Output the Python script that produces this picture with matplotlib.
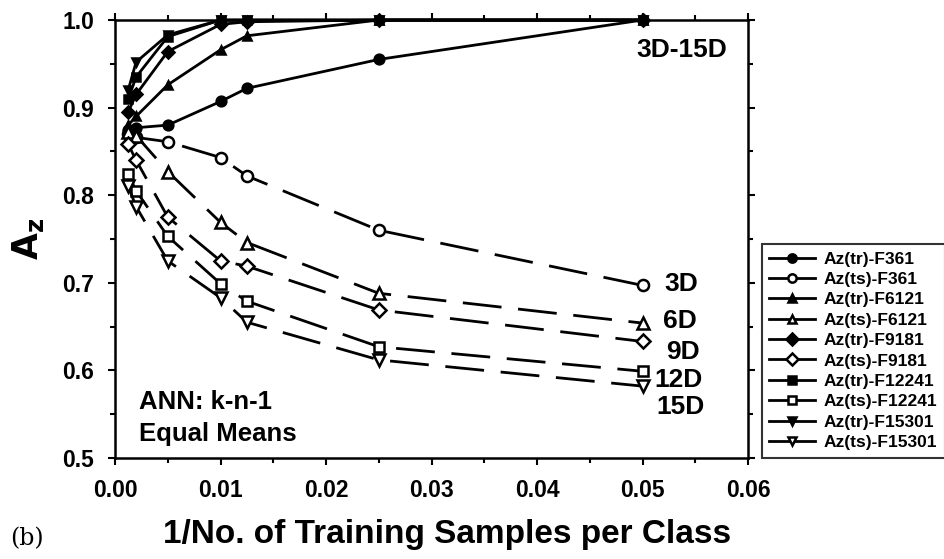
import matplotlib
matplotlib.use("Agg")
import matplotlib.pyplot as plt
from matplotlib.ticker import MultipleLocator
import numpy as np

plt.rcParams['font.family'] = ['Liberation Sans', 'DejaVu Sans']

x = [0.00125, 0.002, 0.005, 0.01, 0.0125, 0.025, 0.05]

tr_F361 = [0.874, 0.877, 0.880, 0.907, 0.922, 0.955, 1.0]
ts_F361 = [0.870, 0.866, 0.861, 0.843, 0.822, 0.760, 0.697]
tr_F6121 = [0.880, 0.890, 0.926, 0.966, 0.982, 1.0, 1.0]
ts_F6121 = [0.872, 0.868, 0.827, 0.769, 0.746, 0.688, 0.654]
tr_F9181 = [0.895, 0.915, 0.964, 0.995, 0.998, 1.0, 1.0]
ts_F9181 = [0.858, 0.840, 0.775, 0.725, 0.719, 0.669, 0.633]
tr_F12241 = [0.910, 0.935, 0.981, 1.0, 1.0, 1.0, 1.0]
ts_F12241 = [0.824, 0.805, 0.753, 0.699, 0.679, 0.627, 0.599]
tr_F15301 = [0.920, 0.952, 0.983, 1.0, 1.0, 1.0, 1.0]
ts_F15301 = [0.810, 0.787, 0.725, 0.683, 0.655, 0.612, 0.582]

labels = ["Az(tr)-F361", "Az(ts)-F361", "Az(tr)-F6121", "Az(ts)-F6121",
          "Az(tr)-F9181", "Az(ts)-F9181", "Az(tr)-F12241", "Az(ts)-F12241",
          "Az(tr)-F15301", "Az(ts)-F15301"]
series = [tr_F361, ts_F361, tr_F6121, ts_F6121, tr_F9181, ts_F9181,
          tr_F12241, ts_F12241, tr_F15301, ts_F15301]
markers = ['o', 'o', '^', '^', 'D', 'D', 's', 's', 'v', 'v']
msizes = [7, 8, 6, 9, 6, 7, 6, 7, 6, 9]

fig = plt.figure(figsize=(9.45, 5.59), dpi=100)
ax = fig.add_axes([0.1217, 0.1807, 0.670, 0.7835])

for i, (ys, lab, m, ms) in enumerate(zip(series, labels, markers, msizes)):
    is_ts = (i % 2 == 1)
    ax.plot(x, ys, color='black', lw=2,
            linestyle=(0, (14, 6)) if is_ts else '-',
            marker=m, markersize=ms, markeredgewidth=1.8,
            markerfacecolor='white' if is_ts else 'black',
            markeredgecolor='black', label=lab, clip_on=False, zorder=3)

ax.set_xlim(0, 0.06)
ax.set_ylim(0.5, 1.0)
ax.xaxis.set_minor_locator(MultipleLocator(0.005))
ax.yaxis.set_minor_locator(MultipleLocator(0.05))
ax.set_xticks(np.arange(0, 0.061, 0.01))
ax.set_xticklabels(["0.00", "0.01", "0.02", "0.03", "0.04", "0.05", "0.06"])
ax.set_yticks(np.arange(0.5, 1.01, 0.1))
ax.set_yticklabels(["0.5", "0.6", "0.7", "0.8", "0.9", "1.0"])
ax.tick_params(which='both', direction='out', top=True, right=True, width=1.5)
ax.tick_params(which='major', length=5, labelsize=16.5, pad=10)
ax.tick_params(which='minor', length=3.5)
for lab in ax.get_xticklabels() + ax.get_yticklabels():
    lab.set_fontweight('bold')
for sp in ax.spines.values():
    sp.set_linewidth(1.8)

ax.set_xlabel("1/No. of Training Samples per Class", fontsize=24, fontweight='bold')
ax.xaxis.set_label_coords(0.525, -0.14)
ax.set_ylabel(r"$\mathbf{A_z}$", fontsize=25, labelpad=12)

fs = 19
ax.text(0.0580, 0.966, "3D-15D", fontsize=fs, fontweight='bold', ha='right', va='center')
ax.text(0.0521, 0.699, "3D", fontsize=fs, fontweight='bold', ha='left', va='center')
ax.text(0.0519, 0.656, "6D", fontsize=fs, fontweight='bold', ha='left', va='center')
ax.text(0.0522, 0.621, "9D", fontsize=fs, fontweight='bold', ha='left', va='center')
ax.text(0.0511, 0.589, "12D", fontsize=fs, fontweight='bold', ha='left', va='center')
ax.text(0.0513, 0.558, "15D", fontsize=fs, fontweight='bold', ha='left', va='center')
ax.text(0.0023, 0.564, "ANN: k-n-1", fontsize=18.5, fontweight='bold', ha='left', va='center')
ax.text(0.0023, 0.527, "Equal Means", fontsize=18.5, fontweight='bold', ha='left', va='center')

fig.text(0.011, 0.037, "(b)", fontsize=17, family='DejaVu Serif', ha='left', va='center')

leg = fig.legend(loc='lower left', bbox_to_anchor=(0.806, 0.181), frameon=True,
                 fancybox=False, edgecolor='black', fontsize=12.5,
                 handlelength=2.6, labelspacing=0.3, borderpad=0.45,
                 handletextpad=0.5, borderaxespad=0)
leg.get_frame().set_linewidth(1.5)
for t in leg.get_texts():
    t.set_fontweight('bold')
for h in leg.legend_handles:
    h.set_linestyle('-')
    h.set_markersize(6)

fig.savefig("out.png", dpi=100)
